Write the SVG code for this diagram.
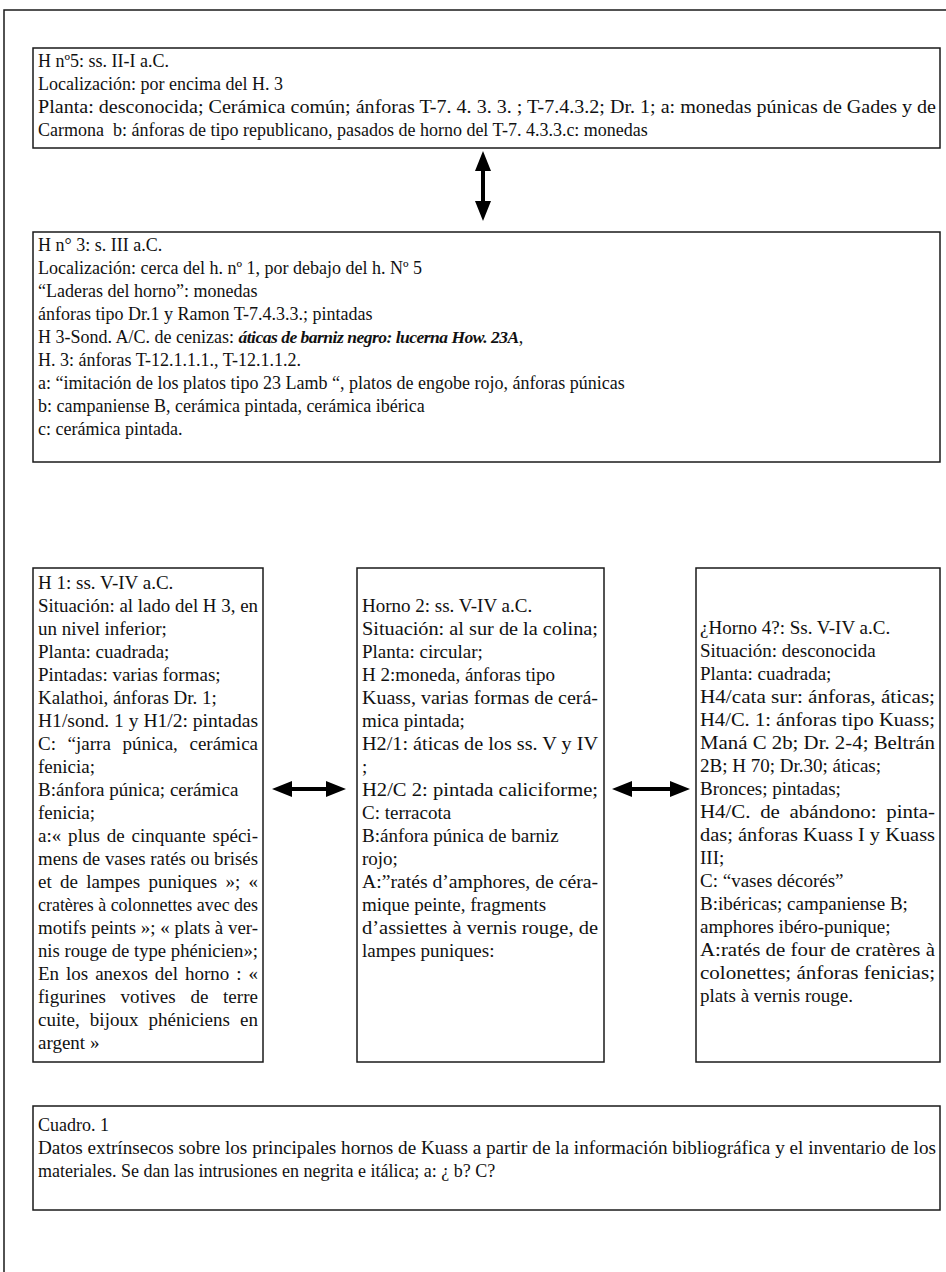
<svg xmlns="http://www.w3.org/2000/svg" width="946" height="1272" viewBox="0 0 946 1272">
<style>
.box{fill:#fff;stroke:#1a1a1a;stroke-width:1.5}
.frame{fill:none;stroke:#1a1a1a;stroke-width:1.5}
.t{font-family:"Liberation Serif","Times New Roman",serif;font-size:18px;fill:#111}
.c{font-family:"Liberation Serif","Times New Roman",serif;font-size:19px;fill:#111}
.bi{font-size:17.5px;font-weight:bold;font-style:italic;letter-spacing:-0.5px}
.arr{stroke:#000;stroke-width:4;fill:none}
</style>
<defs>
<marker id="ah" viewBox="0 0 20 16" markerWidth="20" markerHeight="16" refX="1" refY="8" orient="auto-start-reverse" markerUnits="userSpaceOnUse">
<path d="M0,0 L20,8 L0,16 z" fill="#000"/>
</marker>
</defs>
<rect width="946" height="1272" fill="#fff"/>
<rect class="frame" x="4" y="10" width="960" height="1290"/>

<g id="h5">
<rect class="box" x="33" y="48" width="907" height="100"/>
<text class="t" x="38" y="67">H nº5: ss. II-I a.C.</text>
<text class="t" x="38" y="90">Localización: por encima del H. 3</text>
<text class="t" x="38" y="113" textLength="898" lengthAdjust="spacingAndGlyphs">Planta: desconocida; Cerámica común; ánforas  T-7. 4. 3. 3. ; T-7.4.3.2; Dr. 1; a: monedas púnicas de Gades y de</text>
<text class="t" x="38" y="136" xml:space="preserve">Carmona  b: ánforas de tipo republicano, pasados de horno del T-7. 4.3.3.c: monedas</text>
</g>

<g id="h3">
<rect class="box" x="33" y="232" width="907" height="230"/>
<text class="t" x="38" y="251">H n° 3: s. III a.C.</text>
<text class="t" x="38" y="274">Localización: cerca del h. nº 1, por debajo del h. Nº 5</text>
<text class="t" x="38" y="297">“Laderas del horno”: monedas</text>
<text class="t" x="38" y="320">ánforas tipo Dr.1 y Ramon T-7.4.3.3.; pintadas</text>
<text class="t" x="38" y="343">H 3-Sond. A/C. de cenizas: <tspan class="bi">áticas de barniz negro: lucerna How. 23A</tspan>,</text>
<text class="t" x="38" y="366">H. 3: ánforas T-12.1.1.1., T-12.1.1.2.</text>
<text class="t" x="38" y="389">a: “imitación de los platos tipo 23 Lamb “, platos de engobe rojo, ánforas púnicas</text>
<text class="t" x="38" y="412">b: campaniense B, cerámica pintada, cerámica ibérica</text>
<text class="t" x="38" y="435">c: cerámica pintada.</text>
</g>

<g id="h1">
<rect class="box" x="33" y="568" width="230" height="494"/>
<text class="c" x="38" y="589">H 1: ss. V-IV a.C.</text>
<text class="c" x="38" y="612" textLength="220" lengthAdjust="spacingAndGlyphs">Situación: al lado del H 3, en</text>
<text class="c" x="38" y="635">un nivel inferior;</text>
<text class="c" x="38" y="658">Planta: cuadrada;</text>
<text class="c" x="38" y="681">Pintadas: varias formas;</text>
<text class="c" x="38" y="704">Kalathoi, ánforas Dr. 1;</text>
<text class="c" x="38" y="727" textLength="220" lengthAdjust="spacingAndGlyphs">H1/sond. 1 y H1/2: pintadas</text>
<text class="c" x="38" y="750" word-spacing="6.9" textLength="220" lengthAdjust="spacing">C: “jarra púnica, cerámica</text>
<text class="c" x="38" y="773">fenicia;</text>
<text class="c" x="38" y="796">B:ánfora púnica; cerámica</text>
<text class="c" x="38" y="819">fenicia;</text>
<text class="c" x="38" y="842" word-spacing="2" textLength="220" lengthAdjust="spacing">a:« plus de cinquante spéci-</text>
<text class="c" x="38" y="865" textLength="220" lengthAdjust="spacingAndGlyphs">mens de vases ratés ou brisés</text>
<text class="c" x="38" y="888" word-spacing="3.4" textLength="220" lengthAdjust="spacing">et de lampes puniques »; «</text>
<text class="c" x="38" y="911" textLength="220" lengthAdjust="spacingAndGlyphs">cratères à colonnettes avec des</text>
<text class="c" x="38" y="934" textLength="220" lengthAdjust="spacingAndGlyphs">motifs peints »; « plats à ver-</text>
<text class="c" x="38" y="957" textLength="220" lengthAdjust="spacingAndGlyphs">nis rouge de type phénicien»;</text>
<text class="c" x="38" y="980" word-spacing="2.2" textLength="220" lengthAdjust="spacing">En los anexos del horno : «</text>
<text class="c" x="38" y="1003" word-spacing="9.8" textLength="220" lengthAdjust="spacing">figurines votives de terre</text>
<text class="c" x="38" y="1026" word-spacing="5.4" textLength="220" lengthAdjust="spacing">cuite, bijoux phéniciens en</text>
<text class="c" x="38" y="1049">argent »</text>
</g>

<g id="h2">
<rect class="box" x="357" y="568" width="247" height="494"/>
<text class="c" x="362" y="612">Horno 2: ss. V-IV a.C.</text>
<text class="c" x="362" y="635" textLength="236" lengthAdjust="spacingAndGlyphs">Situación: al sur de la colina;</text>
<text class="c" x="362" y="658">Planta: circular;</text>
<text class="c" x="362" y="681">H 2:moneda, ánforas tipo</text>
<text class="c" x="362" y="704" textLength="236" lengthAdjust="spacingAndGlyphs">Kuass, varias formas de cerá-</text>
<text class="c" x="362" y="727">mica pintada;</text>
<text class="c" x="362" y="750" textLength="236" lengthAdjust="spacingAndGlyphs">H2/1: áticas de los ss. V y IV</text>
<text class="c" x="362" y="773">;</text>
<text class="c" x="362" y="796" textLength="236" lengthAdjust="spacingAndGlyphs">H2/C 2: pintada caliciforme;</text>
<text class="c" x="362" y="819">C: terracota</text>
<text class="c" x="362" y="842">B:ánfora púnica de barniz</text>
<text class="c" x="362" y="865">rojo;</text>
<text class="c" x="362" y="888" textLength="236" lengthAdjust="spacingAndGlyphs">A:”ratés d’amphores, de céra-</text>
<text class="c" x="362" y="911">mique peinte, fragments</text>
<text class="c" x="362" y="934" textLength="236" lengthAdjust="spacingAndGlyphs">d’assiettes à vernis rouge, de</text>
<text class="c" x="362" y="957">lampes puniques:</text>
</g>

<g id="h4">
<rect class="box" x="696" y="568" width="244" height="494"/>
<text class="c" x="700" y="634">¿Horno 4?: Ss. V-IV a.C.</text>
<text class="c" x="700" y="657">Situación: desconocida</text>
<text class="c" x="700" y="680">Planta: cuadrada;</text>
<text class="c" x="700" y="703" textLength="235" lengthAdjust="spacingAndGlyphs">H4/cata sur: ánforas, áticas;</text>
<text class="c" x="700" y="726" textLength="235" lengthAdjust="spacingAndGlyphs">H4/C. 1: ánforas tipo Kuass;</text>
<text class="c" x="700" y="749" textLength="235" lengthAdjust="spacingAndGlyphs">Maná C 2b; Dr. 2-4; Beltrán</text>
<text class="c" x="700" y="772">2B; H 70; Dr.30; áticas;</text>
<text class="c" x="700" y="795">Bronces; pintadas;</text>
<text class="c" x="700" y="818" word-spacing="4" textLength="235" lengthAdjust="spacingAndGlyphs">H4/C. de abándono: pinta-</text>
<text class="c" x="700" y="841" textLength="235" lengthAdjust="spacingAndGlyphs">das; ánforas Kuass I y Kuass</text>
<text class="c" x="700" y="864">III;</text>
<text class="c" x="700" y="887">C: “vases décorés”</text>
<text class="c" x="700" y="910">B:ibéricas; campaniense B;</text>
<text class="c" x="700" y="933">amphores ibéro-punique;</text>
<text class="c" x="700" y="956" textLength="235" lengthAdjust="spacingAndGlyphs">A:ratés de four de cratères à</text>
<text class="c" x="700" y="979" textLength="235" lengthAdjust="spacingAndGlyphs">colonettes; ánforas fenicias;</text>
<text class="c" x="700" y="1002">plats à vernis rouge.</text>
</g>

<g id="cuadro">
<rect class="box" x="33" y="1106" width="907" height="104"/>
<text class="t" x="38" y="1131">Cuadro. 1</text>
<text class="t" x="38" y="1154" textLength="898" lengthAdjust="spacingAndGlyphs">Datos extrínsecos sobre los principales hornos de Kuass a partir de la información bibliográfica y el inventario de los</text>
<text class="t" x="38" y="1177">materiales. Se dan las intrusiones en negrita e itálica; a: ¿ b? C?</text>
</g>

<g id="connectors">
<line class="arr" x1="483" y1="170" x2="483" y2="202" marker-start="url(#ah)" marker-end="url(#ah)"/>
<line class="arr" x1="291" y1="789" x2="327" y2="789" marker-start="url(#ah)" marker-end="url(#ah)"/>
<line class="arr" x1="631" y1="789" x2="671" y2="789" marker-start="url(#ah)" marker-end="url(#ah)"/>
</g>
</svg>
